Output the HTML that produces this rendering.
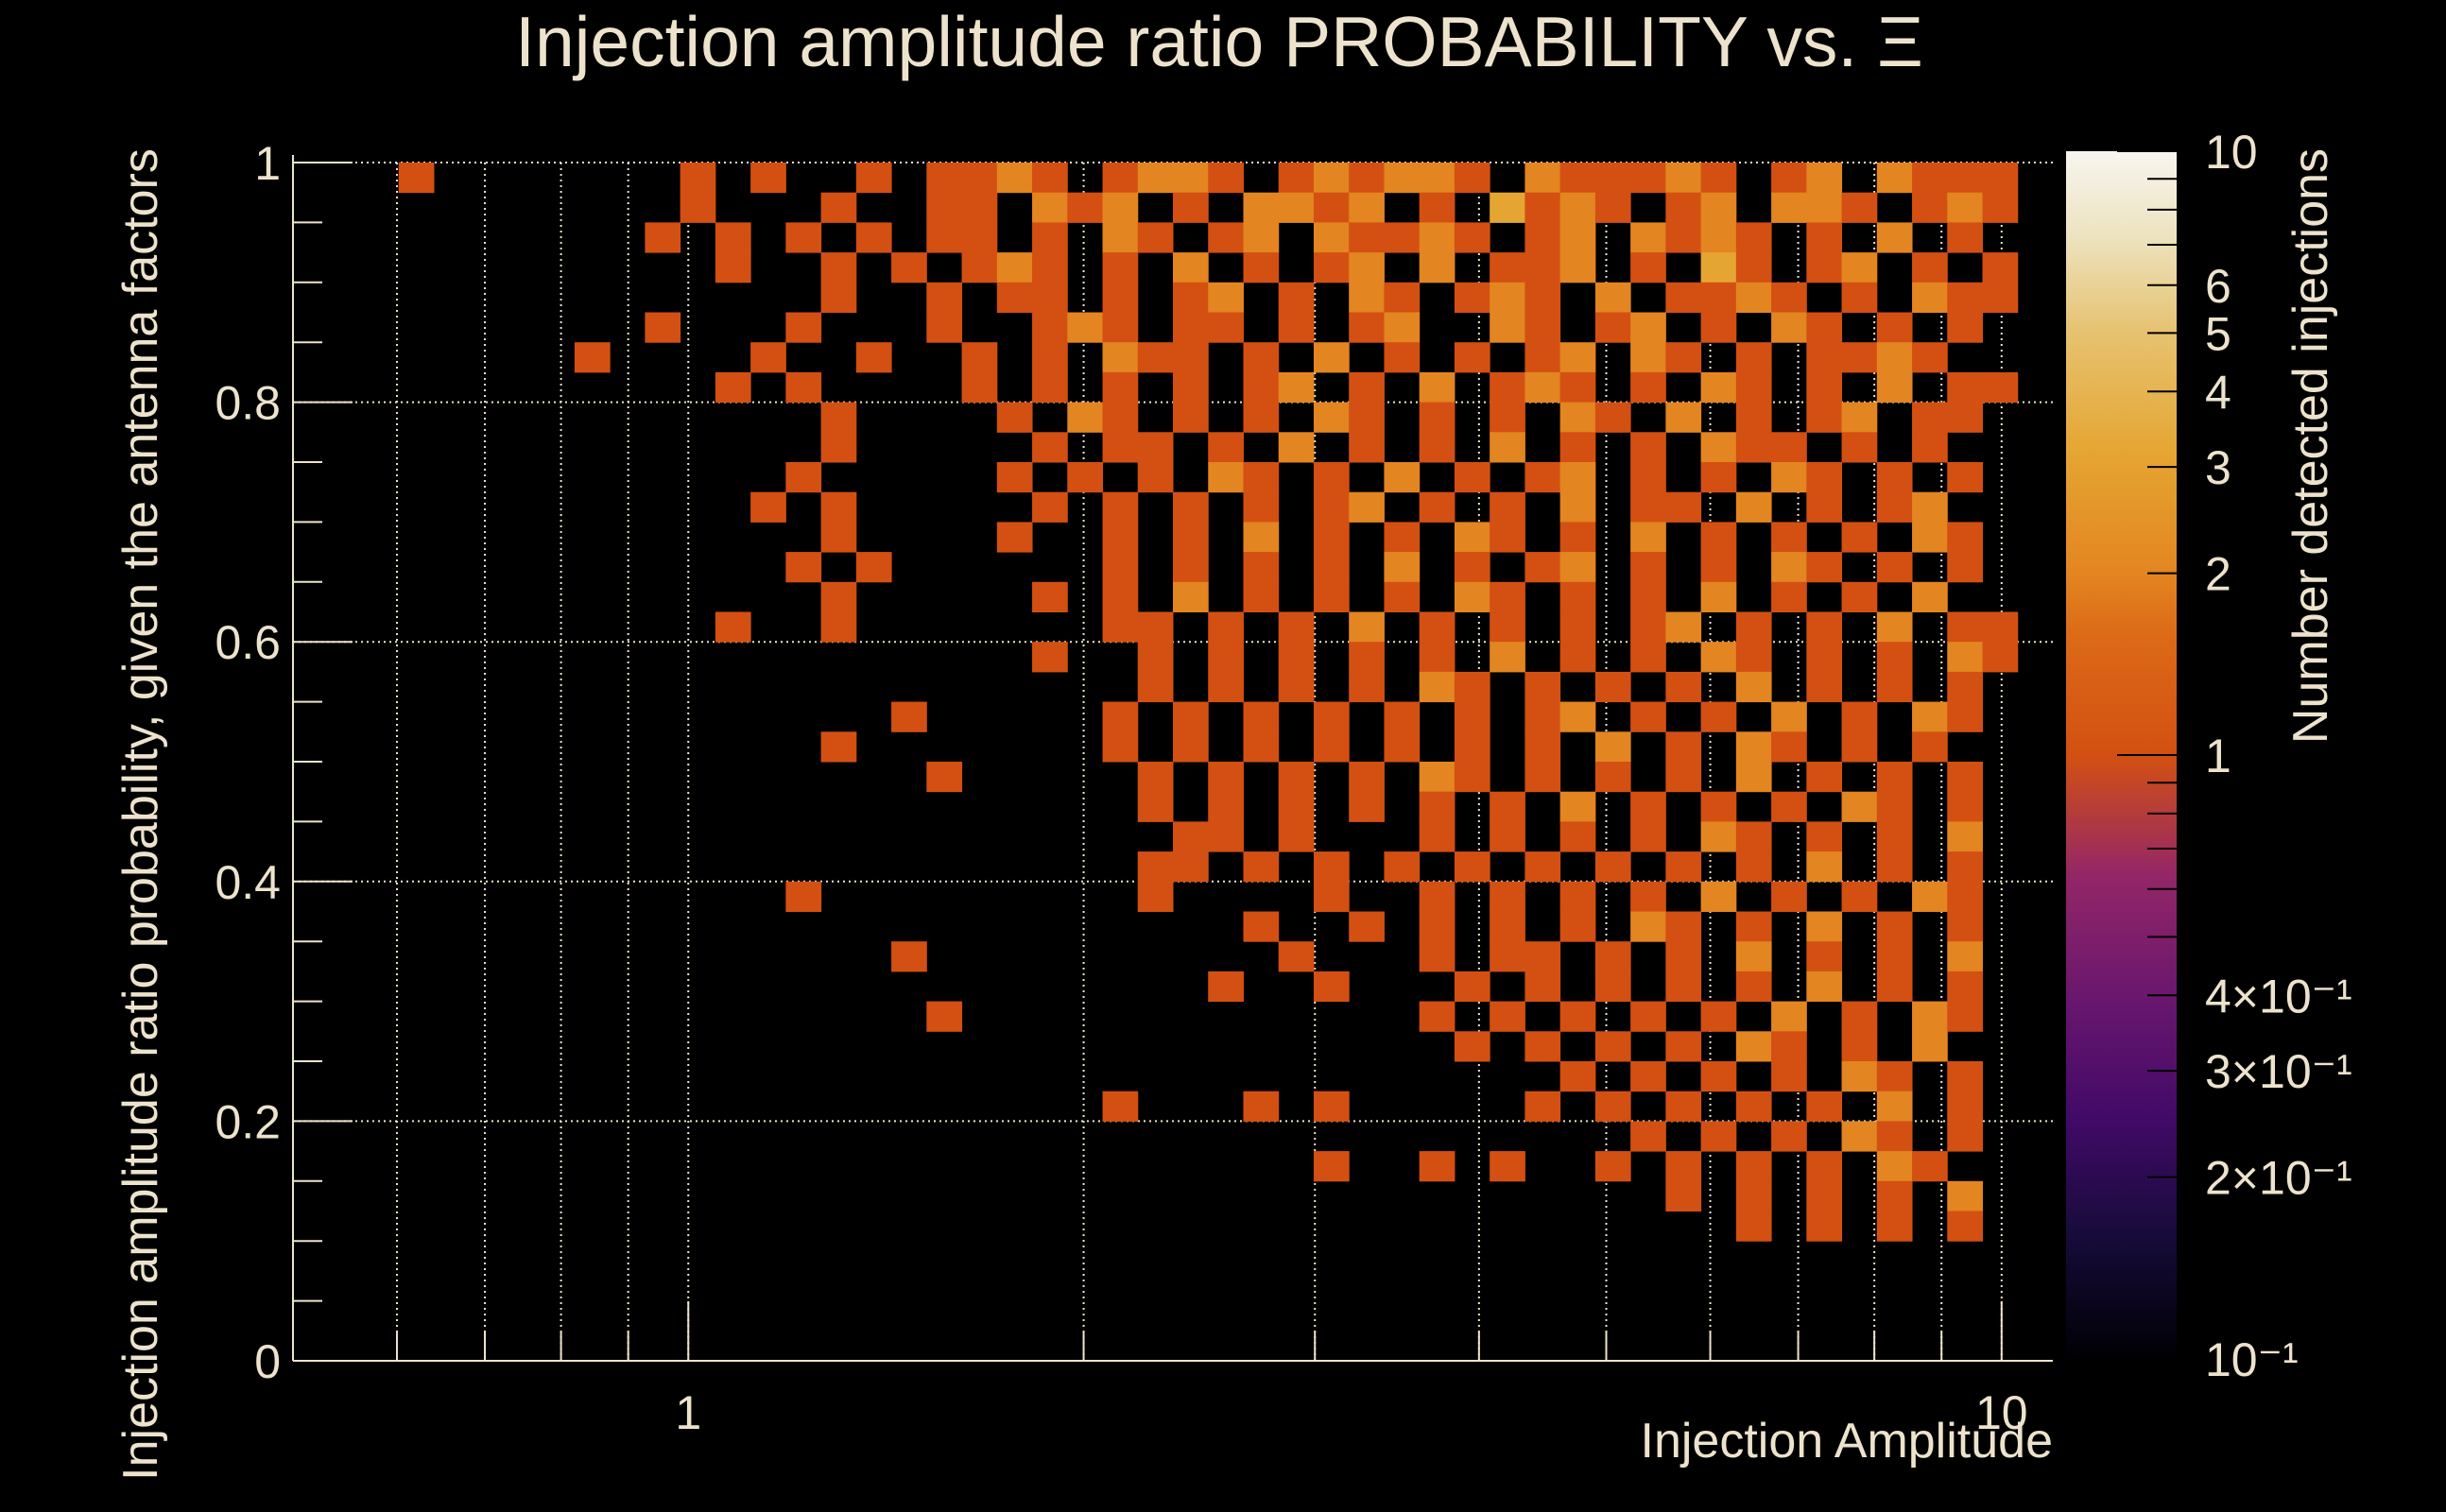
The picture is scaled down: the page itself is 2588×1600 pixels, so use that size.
<!DOCTYPE html>
<html><head><meta charset="utf-8"><style>
html,body{margin:0;padding:0;background:#000;}
svg{display:block;font-family:"Liberation Sans",sans-serif;}
</style></head><body>
<svg id="chart" width="2588" height="1600" viewBox="0 0 2588 1600" xmlns="http://www.w3.org/2000/svg">
<defs>
<linearGradient id="inferno" x1="0" y1="1" x2="0" y2="0">
<stop offset="0" stop-color="#000004"/>
<stop offset="0.1" stop-color="#160b39"/>
<stop offset="0.2" stop-color="#420a68"/>
<stop offset="0.3" stop-color="#6a176e"/>
<stop offset="0.4" stop-color="#932667"/>
<stop offset="0.5" stop-color="#d35012"/>
<stop offset="0.6" stop-color="#dc6a18"/>
<stop offset="0.65" stop-color="#e38520"/>
<stop offset="0.75" stop-color="#e5a532"/>
<stop offset="0.85" stop-color="#e6c270"/>
<stop offset="0.93" stop-color="#ede3c0"/>
<stop offset="1" stop-color="#f7f5ef"/>
</linearGradient>
</defs>
<g id="grid"></g>
<g id="cells"></g>
<g id="axes"></g>
<text x="1290" y="70" font-size="75" fill="#ede3cc" text-anchor="middle">Injection amplitude ratio PROBABILITY vs.  Ξ</text>
<text x="2172" y="1542" font-size="52" fill="#ede3cc" text-anchor="end">Injection Amplitude</text>
<text transform="translate(166,862) rotate(-90)" font-size="52" fill="#ede3cc" text-anchor="middle">Injection amplitude ratio probability, given the antenna factors</text>
<rect x="2186" y="160" width="117" height="1278" fill="url(#inferno)"/>
<g id="cbar"></g>
<text transform="translate(2462,472) rotate(-90)" font-size="52" fill="#ede3cc" text-anchor="middle">Number detected injections</text>
</svg>
<script>
const NS="http://www.w3.org/2000/svg";
const xBinEdgesLog = [-0.301, 1.039];
const nCols = 50;
const rowHeight = 0.025;
const rows = [
"...1.......1.1..1.1121.1221.121221.211121.12.2111",
"...........1...1..11.212.1.2212.1.3121.12.221.121",
"..........1.1.1.1.11.1.21.12.21121.12.2121.1.2.1",
"............1..1.1.121.1.2.1.12.2.112.1.31.12.1.1",
"...............1..1.11.1.12.1.21.121.2.1121.1.211",
"..........1...1...1..121.11.1.12..21.12.1.21.1.1",
"........1....1..1..1.1.211.1.2.1.1.12.21.1.1121.",
"............1.1....1.1.1.1.12.1.2.121.1.21.1.2.11",
"...............1....1.21.1.1.21.1.1.21.2.1.12.11",
"...............1.....1.11.1.2.1.1.2.1.1.211.1.1",
"..............1.....1.1.1.21.1.2.1.12.1.1.21.1.1",
".............1.1.....1.1.1.1.12.1.1.2.11.2.1.12.",
"...............1....1..1.1.2.1.1.21.1.2.1.1.1.21",
"..............1.1......1.1.1.1.2.1.12.1.1.21.1.1",
"...............1.....1.1.2.1.1.1.21.1.1.2.1.1.2.",
"............1..1.......11.1.1.2.1.1.1.12.1.1.2.11",
".....................1..1.1.1.1.1.2.1.1.21.1.1.21",
"........................1.1.1.1.21.1.1.1.2.1.1.1",
".................1.....1.1.1.1.1.1.12.1.1.2.1.21",
"...............1.......1.1.1.1.1.1.1.2.1.21.1.1.",
"..................1.....1.1.1.1.21.1.1.1.2.1.1.1",
"........................1.1.1.1.1.1.2.1.1.1.21.1",
".........................11.1...1.1.1.1.21.1.1.2",
"........................11.1.1.1.1.1.1.1.1.2.1.1",
"..............1.........1....1..1.1.1.1.2.1.1.21",
"...........................1..1.1.1.1.21.1.2.1.1",
".................1..........1...1.11.1.1.2.1.1.2",
"..........................1..1...1.1.1.1.1.2.1.1",
"..................1.............1.1.1.1.1.2.1.21",
".................................1.1.1.1.21.1.2.",
"....................................1.1.1.1.21.1",
".......................1...1.1.....1.1.1.1.1.2.1",
"......................................1.1.1.21.1",
".............................1..1.1..1.1.1.1.21.",
".......................................1.1.1.1.2",
".........................................1.1.1.1"
];
const yTicks = [0,0.2,0.4,0.6,0.8,1];
const yTickLabels = ["0","0.2","0.4","0.6","0.8","1"];
const xMajor = [1,10];
const xMajorLabels = ["1","10"];
const xMinor = [0.6,0.7,0.8,0.9,2,3,4,5,6,7,8,9];
const cbTicks = [10,6,5,4,3,2,1,0.4,0.3,0.2,0.1];
const cbLabels = ["10","6","5","4","3","2","1","4×10⁻¹","3×10⁻¹","2×10⁻¹","10⁻¹"];
const cbMinor = [9,8,7,0.9,0.8,0.7,0.6,0.5];

const L=310,R=2172,T=172,B=1440;
const lx0=xBinEdgesLog[0], lx1=xBinEdgesLog[1];
function X(v){return L+(Math.log10(v)-lx0)/(lx1-lx0)*(R-L);}
function XL(l){return L+(l-lx0)/(lx1-lx0)*(R-L);}
function Y(v){return B-v*(B-T);}
const CT=160,CB=1438;
function CY(v){return CB-(Math.log10(v)+1)/2*(CB-CT);}
const colors={1:"#d35012",2:"#e38520",3:"#e5a532",4:"#e8bd60"};
const TC="#ede3cc";
function el(tag,attrs,parent){const e=document.createElementNS(NS,tag);for(const k in attrs)e.setAttribute(k,attrs[k]);parent.appendChild(e);return e;}

const grid=document.getElementById('grid');
[...xMinor,...xMajor].forEach(v=>{
  const g=el('line',{x1:X(v),x2:X(v),y1:T,y2:B,stroke:TC,'stroke-width':2,'stroke-dasharray':'2 4'},grid);
  
  
});
yTicks.forEach(v=>{
  const g=el('line',{x1:L,x2:R,y1:Y(v),y2:Y(v),stroke:TC,'stroke-width':2,'stroke-dasharray':'2 4'},grid);
  
  
});

const cells=document.getElementById('cells');
const dl=(lx1-lx0)/nCols;
rows.forEach((row,r)=>{
  const yTop=1-r*rowHeight, yBot=yTop-rowHeight;
  for(let c=0;c<row.length;c++){
    const ch=row[c]; if(ch==='.')continue;
    const n=parseInt(ch,10);
    const x0=XL(lx0+c*dl), x1=XL(lx0+(c+1)*dl);
    const rc=el('rect',{x:x0,y:Y(yTop),width:x1-x0+0.5,height:Y(yBot)-Y(yTop)+0.5,fill:colors[n]||colors[4]},cells);
    
    
  }
});

const axes=document.getElementById('axes');
el('line',{x1:L,x2:L,y1:T-8,y2:B,stroke:TC,'stroke-width':2},axes);
el('line',{x1:L,x2:R,y1:B,y2:B,stroke:TC,'stroke-width':2},axes);
for(let i=0;i<=20;i++){
  const v=i*0.05, major=i%4===0;
  el('line',{x1:L,x2:L+(major?63:31),y1:Y(v),y2:Y(v),stroke:TC,'stroke-width':2},axes);
}
yTicks.forEach((v,i)=>{
  const t=el('text',{x:297,y:Y(v)+18,'font-size':50,fill:TC,'text-anchor':'end'},axes);
  t.textContent=yTickLabels[i];
  
  
});
xMinor.forEach(v=>el('line',{x1:X(v),x2:X(v),y1:B,y2:B-31,stroke:TC,'stroke-width':2},axes));
xMajor.forEach((v,i)=>{
  el('line',{x1:X(v),x2:X(v),y1:B,y2:B-63,stroke:TC,'stroke-width':2},axes);
  const t=el('text',{x:X(v),y:1512,'font-size':50,fill:TC,'text-anchor':'middle'},axes);
  t.textContent=xMajorLabels[i];
  
  
});

const cbar=document.getElementById('cbar');
cbTicks.forEach((v,i)=>{
  const big=(v===1||v===10||v===0.1);
  el('line',{x1:2303-(big?63:31),x2:2303,y1:CY(v),y2:CY(v),stroke:'#000','stroke-width':2},cbar);
  const t=el('text',{x:2333,y:CY(v)+18,'font-size':50,fill:TC},cbar);
  t.textContent=cbLabels[i];
  
  
});
cbMinor.forEach(v=>el('line',{x1:2272,x2:2303,y1:CY(v),y2:CY(v),stroke:'#000','stroke-width':2},cbar));
</script>
</body></html>
